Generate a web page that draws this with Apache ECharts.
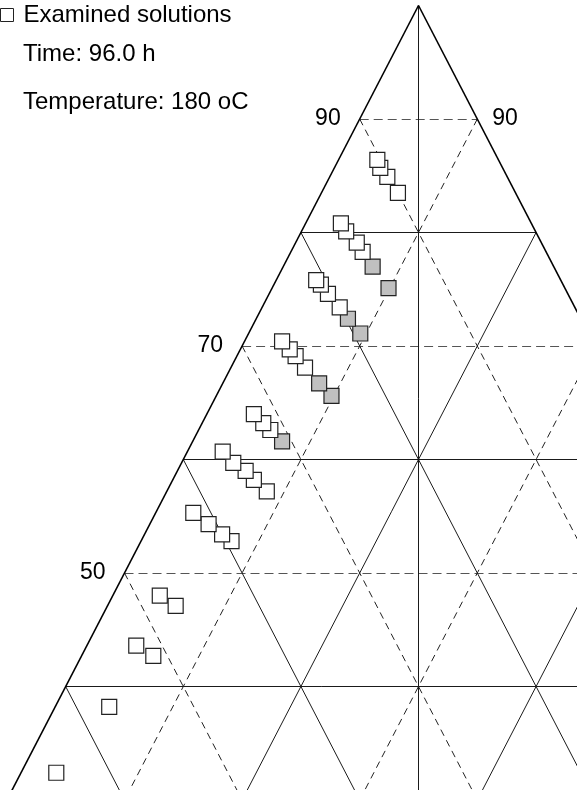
<!DOCTYPE html>
<html>
<head>
<meta charset="utf-8">
<script src="https://cdn.jsdelivr.net/npm/echarts@6/dist/echarts.min.js"></script>
<style>
  html, body { margin: 0; padding: 0; background: #fff; }
  #chart { width: 577px; height: 790px; }
</style>
</head>
<body>
<div id="chart"></div>
<script>
// Composition of the examined solutions, in percent.
// Top = top corner, Left = bottom-left corner, Right = bottom-right corner.
const openTop   = [86.4, 85.7, 84.9, 83.5, 80.8, 80.1, 79.1, 78.3, 75.8, 75.4, 74.6, 73.4,
                   70.4, 69.7, 69.1, 68.1, 64.0, 63.2, 62.6, 60.7, 59.7, 59.0, 58.2, 57.2,
                   55.3, 54.3, 53.4, 52.8, 48.0, 47.1, 43.6, 42.7, 38.2, 32.4];
const openLeft  = [10.3, 10.4, 10.2, 10.0, 16.2, 16.1, 15.7, 15.6, 20.8, 20.6, 20.4, 20.0,
                   26.4, 26.1, 25.9, 25.6, 32.0, 31.6, 31.3, 36.3, 35.9, 35.2, 34.9, 34.3,
                   41.5, 40.7, 40.0, 39.5, 48.0, 47.1, 52.2, 51.2, 57.2, 64.6];
const openRight = [3.3, 3.9, 4.9, 6.5, 3.0, 3.8, 5.2, 6.1, 3.4, 4.0, 5.0, 6.6,
                   3.2, 4.2, 5.0, 6.3, 4.0, 5.2, 6.1, 3.0, 4.4, 5.8, 6.9, 8.5,
                   3.2, 5.0, 6.6, 7.7, 4.0, 5.8, 4.2, 6.1, 4.6, 3.0];

// Solutions shown with a grey fill
const greyTop   = [77.0, 75.1, 72.4, 71.1, 66.7, 65.6, 61.6];
const greyLeft  = [15.4, 15.0, 19.8, 19.4, 25.1, 24.6, 30.8];
const greyRight = [7.6, 9.9, 7.8, 9.5, 8.2, 9.8, 7.6];

// Grid levels (every 10 %), labelled levels on the edges
const gridLevels = [10, 20, 30, 40, 50, 60, 70, 80, 90];
const labelLevels = [90, 70, 50];

const legendName = 'Examined solutions';
const infoLines = ['Time: 96.0 h', 'Temperature: 180 oC'];

const FONT = '"Liberation Sans", Arial, Helvetica, sans-serif';

// Ternary -> planar: y is the top share, x runs 0..100 along the base
function toXY(top, right) {
  return [right + top / 2, top];
}

// Lower points first so that the upper-left squares overlap them
function points(tops, rights) {
  const idx = tops.map((_, i) => i).sort((a, b) => tops[a] - tops[b]);
  return idx.map(i => toXY(tops[i], rights[i]));
}

// Grid line segments
const solidSegs = [], dashDiag = [], dashHoriz = [];
gridLevels.forEach(v => {
  const solid = v % 20 === 0;
  const horiz = { coords: [[v / 2, v], [100 - v / 2, v]] };
  const leftFam = { coords: [[(100 - v) / 2, 100 - v], [100 - v, 0]] };
  const rightFam = { coords: [[v + (100 - v) / 2, 100 - v], [v, 0]] };
  if (solid) {
    solidSegs.push(horiz, leftFam, rightFam);
  } else {
    dashHoriz.push(horiz);
    dashDiag.push(leftFam, rightFam);
  }
});
solidSegs.push({ coords: [[50, 100], [50, 0]] });
const outline = [{ coords: [[0, 0], [50, 100]] }, { coords: [[50, 100], [100, 0]] }, { coords: [[100, 0], [0, 0]] }];

const chart = echarts.init(document.getElementById('chart'));

function edgeLabels(xOf, position, distance) {
  return {
    type: 'scatter', silent: true, symbolSize: 0,
    itemStyle: { color: '#000', opacity: 1 },
    data: labelLevels.map(v => [xOf(v), v]),
    label: {
      show: true, position: position, distance: distance,
      formatter: p => String(p.value[1]),
      fontFamily: FONT, fontSize: 23, color: '#000', opacity: 1,
      textBorderWidth: 0
    }
  };
}

chart.setOption({
  animation: false,
  backgroundColor: '#fff',
  grid: { left: 0, right: 0, top: 0, bottom: 0 },
  xAxis: { type: 'value', min: 14.413, max: 63.478, show: false },
  yAxis: { type: 'value', min: 30.881, max: 100.485, show: false },
  legend: {
    data: [legendName],
    left: 0, top: 3, padding: 0,
    itemWidth: 13, itemHeight: 13,
    icon: 'rect',
    itemStyle: { color: '#fff', borderColor: '#222', borderWidth: 1 },
    textStyle: { fontFamily: FONT, fontSize: 24, color: '#000', padding: [0, 0, 0, 5] }
  },
  graphic: infoLines.map((t, i) => ({
    type: 'text',
    left: 23,
    top: 42 + i * 48,
    style: { text: t, fill: '#000', font: '24px ' + FONT }
  })),
  series: [
    {
      type: 'lines', coordinateSystem: 'cartesian2d', silent: true,
      data: dashHoriz,
      lineStyle: { color: '#555', width: 1, type: [9, 5], opacity: 1 }
    },
    {
      type: 'lines', coordinateSystem: 'cartesian2d', silent: true,
      data: dashDiag,
      lineStyle: { color: '#222', width: 1, type: [7, 5], opacity: 1 }
    },
    {
      type: 'lines', coordinateSystem: 'cartesian2d', silent: true,
      data: solidSegs,
      lineStyle: { color: '#1a1a1a', width: 1, type: 'solid', opacity: 1 }
    },
    {
      type: 'lines', coordinateSystem: 'cartesian2d', silent: true,
      data: outline,
      lineStyle: { color: '#000', width: 1.6, type: 'solid', opacity: 1 }
    },
    edgeLabels(v => v / 2, 'left', 19),
    edgeLabels(v => 100 - v / 2, 'right', 15),
    {
      name: 'Grey solutions',
      type: 'scatter', symbol: 'rect', symbolSize: 15,
      itemStyle: { color: '#c0c0c0', borderColor: '#222', borderWidth: 1.2, opacity: 1 },
      data: points(greyTop, greyRight)
    },
    {
      name: legendName,
      type: 'scatter', symbol: 'rect', symbolSize: 15,
      itemStyle: { color: '#fff', borderColor: '#222', borderWidth: 1.2, opacity: 1 },
      data: points(openTop, openRight)
    }
  ]
});
</script>
</body>
</html>
